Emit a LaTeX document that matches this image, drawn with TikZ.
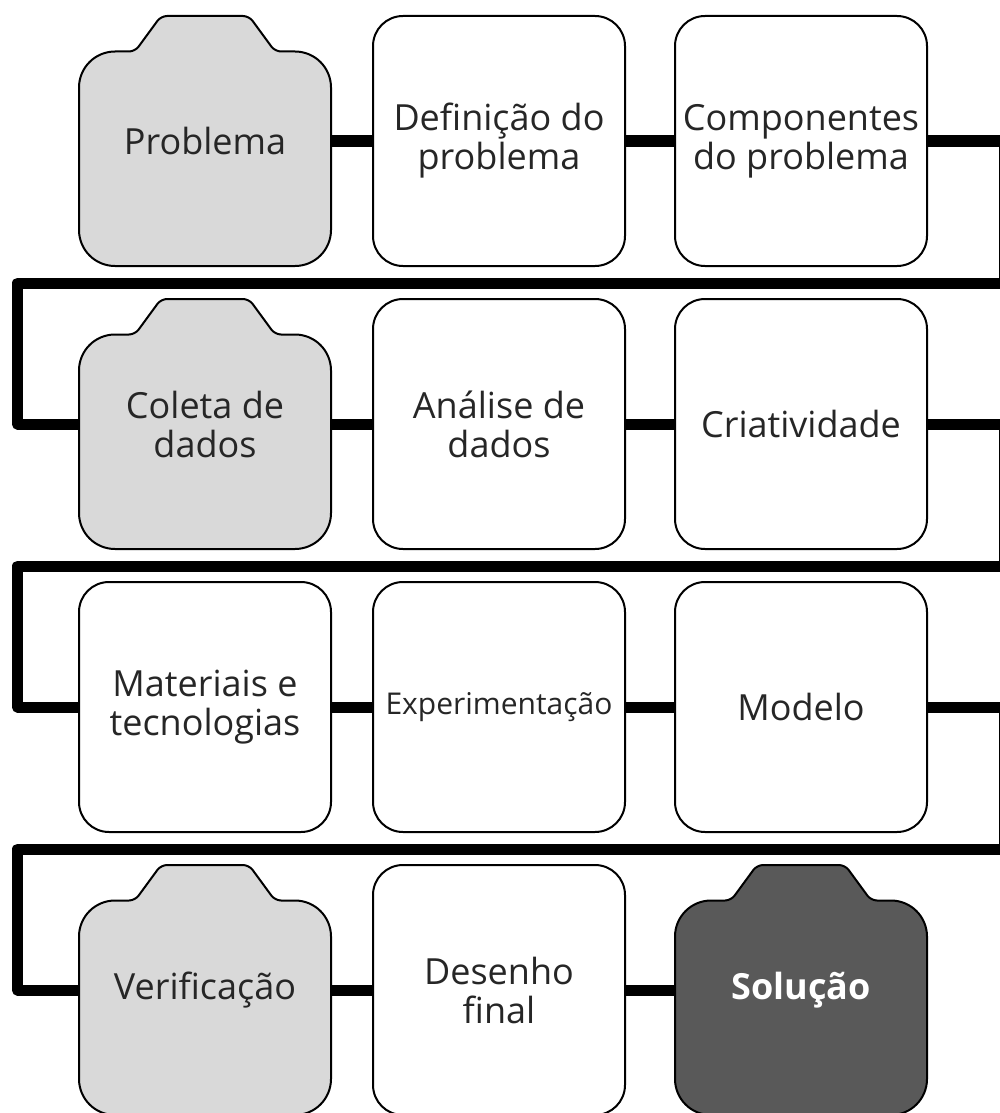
\documentclass[tikz,border=0pt]{standalone}
\usepackage{fontspec}
\setmainfont{Open Sans}
\usetikzlibrary{positioning,backgrounds}

\definecolor{camfill}{HTML}{D9D9D9}
\definecolor{solfill}{HTML}{595959}

% outline of the "camera" boxes, drawn round a node
\newcommand{\camera}[2]{%
  \path[draw, fill=#2, line width=1pt, rounded corners=18pt, shift={(#1.center)}]
    (-126,0) -- (-126,-89.5) [rounded corners=3pt] -- (-70,-89.5) -- (-44,-125)
    -- (44,-125) -- (70,-89.5) [rounded corners=18pt] -- (126,-89.5)
    -- (126,125) -- (-126,125) -- cycle;}

\begin{document}
\begin{tikzpicture}[x=0.5pt,y=-0.5pt,node distance=141.5pt,on grid,
  box/.style={draw, line width=1pt, rounded corners=15pt, minimum width=126pt,
    minimum height=125pt, align=center, text=black!85,
    font=\fontsize{18}{19.5}\selectfont},
  cam/.style={box, draw=none},
  link/.style={line width=5.5pt, line join=round}]
\useasboundingbox (0,0) rectangle (1000,1113);

\node[cam] (prob) at (205,141) {Problema};
\node[box] (defi) [right=147pt of prob] {Definição do\\problema};
\node[box] (comp) [right=151pt of defi] {Componentes\\do problema};

\node[cam] (cole) [below=of prob] {Coleta de\\dados};
\node[box] (anal) [below=of defi] {Análise de\\dados};
\node[box] (cria) [below=of comp] {Criatividade};

\node[box] (mate) [below=of cole] {Materiais e\\tecnologias};
\node[box, font=\fontsize{15}{17}\selectfont] (expe) [below=of anal] {Experimentação};
\node[box] (mode) [below=of cria] {Modelo};

\node[cam] (veri) [below=of mate] {Verificação};
\node[box] (dese) [below=of expe] {Desenho\\final};
\node[cam, text=white, font=\fontsize{18}{19.5}\selectfont\bfseries] (solu) [below=of mode] {Solução};

\begin{scope}[on background layer]
\camera{prob}{camfill}
\camera{cole}{camfill}
\camera{veri}{camfill}
\camera{solu}{solfill}
\end{scope}

\coordinate (r_1) at (1004,283);
\coordinate (l_1) at (17.5,283);
\coordinate (r_2) at (1004,566);
\coordinate (l_2) at (17.5,566);
\coordinate (r_3) at (1004,849);
\coordinate (l_3) at (17.5,849);

\draw[link] (prob.east) -- (defi.west);
\draw[link] (defi.east) -- (comp.west);
\draw[link] (comp.east) -| (r_1) -- (l_1) |- (cole.west);
\draw[link] (cole.east) -- (anal.west);
\draw[link] (anal.east) -- (cria.west);
\draw[link] (cria.east) -| (r_2) -- (l_2) |- (mate.west);
\draw[link] (mate.east) -- (expe.west);
\draw[link] (expe.east) -- (mode.west);
\draw[link] (mode.east) -| (r_3) -- (l_3) |- (veri.west);
\draw[link] (veri.east) -- (dese.west);
\draw[link] (dese.east) -- (solu.west);
\end{tikzpicture}
\end{document}
